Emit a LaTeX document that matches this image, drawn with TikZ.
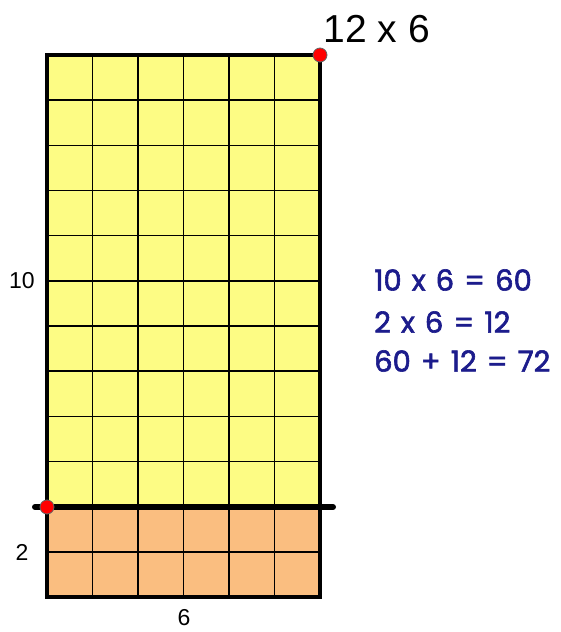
\documentclass[tikz,border=0pt]{standalone}
\usepackage{fontspec}
\setmainfont{Liberation Sans}
\newfontfamily\handfont[FakeBold=2,WordSpace=1.3]{Poppins}
\definecolor{cellyellow}{RGB}{253,252,132}
\definecolor{cellorange}{RGB}{250,190,128}
\definecolor{mathblue}{RGB}{28,28,140}
\begin{document}
\begin{tikzpicture}[x=1pt,y=-1pt,
  dot/.style={circle,fill=red,draw=black!60,line width=0.8pt,inner sep=0pt,minimum size=14pt},
  sidelabel/.style={font=\fontsize{23}{25}\selectfont},
  sumline/.style={anchor=west,inner sep=0pt,text=mathblue,font=\handfont\fontsize{29}{32}\selectfont}]
\useasboundingbox (0,0) rectangle (561,632);
\fill[white] (0,0) rectangle (561,632);

% the two parts of the 12 by 6 array
\fill[cellyellow] (47,55) rectangle (320,507);
\fill[cellorange] (47,507) rectangle (320,597);
\foreach \i in {1,...,5}
  \draw[line width=1.5pt] (47+45.5*\i,55) -- (47+45.5*\i,597);
\foreach \j in {1,...,11}
  \draw[line width=1.5pt] (47,55+45.17*\j) -- (320,55+45.17*\j);
\draw[line width=4pt] (47,55) rectangle (320,597);

% split after ten rows
\coordinate (cutL) at (35,507);
\coordinate (cutR) at (333,507);
\draw[line width=6pt,line cap=round] (cutL) -- (cutR);
\node[dot] (split) at (47,507) {};
\node[dot] (corner) at (320,55) {};

\node[anchor=west,font=\fontsize{39}{42}\selectfont] (title) at (320,29) {12 x 6};
\node[sidelabel] (rows10) at (22,281) {10};
\node[sidelabel] (rows2) at (22,552) {2};
\node[sidelabel] (cols6) at (184,618) {6};

\node[sumline] (sumA) at (374,280) {10 x 6 = 60};
\node[sumline] (sumB) at (374,322) {2 x 6 = 12};
\node[sumline] (sumC) at (374,361) {60 + 12 = 72};
\end{tikzpicture}
\end{document}
